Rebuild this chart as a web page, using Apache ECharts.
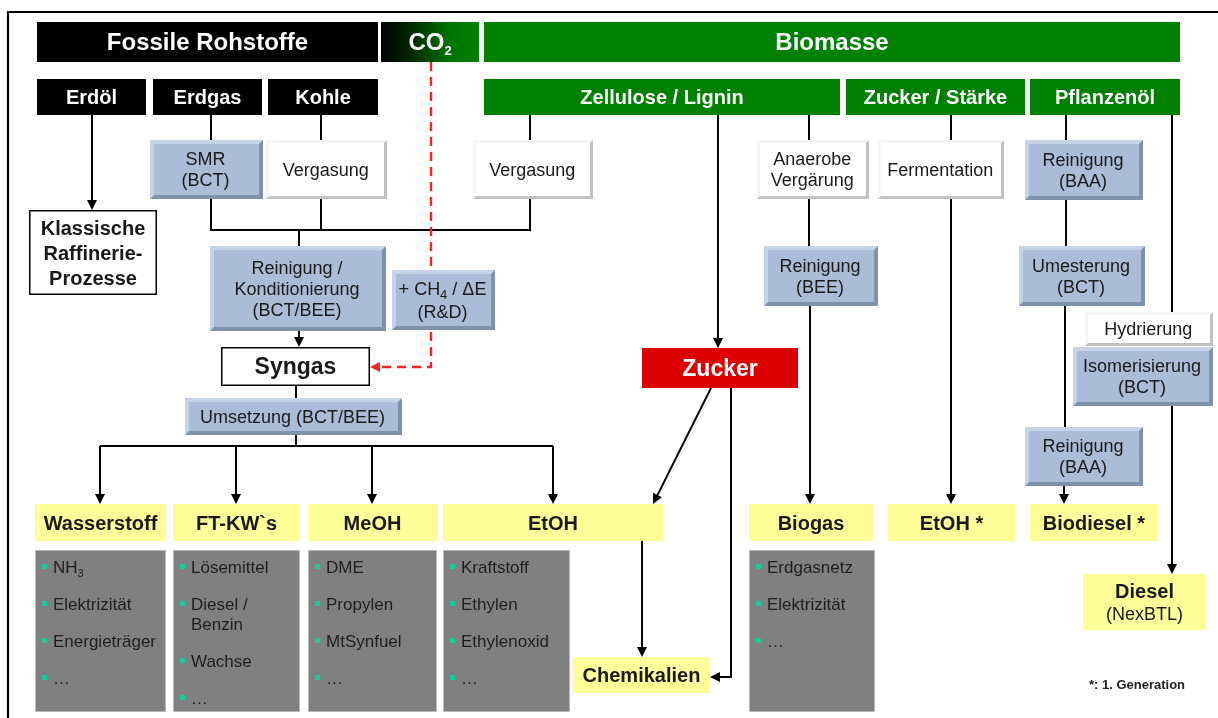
<!DOCTYPE html>
<html>
<head>
<meta charset="utf-8">
<title>Fossile Rohstoffe / Biomasse</title>
<script src="https://cdn.jsdelivr.net/npm/echarts@6/dist/echarts.min.js"></script>
<style>
  html, body { margin: 0; background: #fff; }
  #chart { width: 1218px; height: 718px; }
</style>
</head>
<body>
<div id="chart"></div>
<script>
// diagram units = page pixels (x right, y down)
const FONT = '"Liberation Sans", Arial, Helvetica, sans-serif'

// [text, x, y, w, h, kind]
const headerNodes = [
  ['Fossile Rohstoffe', 37, 22, 341, 40, 'black'],
  ['{m|CO}{s|2}', 381, 22, 98, 40, 'co2'],
  ['Biomasse', 484, 22, 696, 40, 'green'],
]

const sourceNodes = [
  ['Erdöl', 37, 79, 109, 36, 'black'],
  ['Erdgas', 153, 79, 109, 36, 'black'],
  ['Kohle', 268, 79, 110, 36, 'black'],
  ['Zellulose / Lignin', 484, 79, 356, 36, 'green'],
  ['Zucker / Stärke', 846, 79, 179, 36, 'green'],
  ['Pflanzenöl', 1030, 79, 150, 36, 'green'],
]

const processNodes = [
  ['SMR\n(BCT)', 150, 140, 113, 59, 'blue'],
  ['Vergasung', 266, 140, 121, 59, 'white'],
  ['Vergasung', 473, 140, 120, 59, 'white'],
  ['Anaerobe\nVergärung', 757, 140, 112, 59, 'white'],
  ['Fermentation', 878, 140, 126, 59, 'white'],
  ['Reinigung\n(BAA)', 1025, 140, 118, 60, 'blue'],
  ['Reinigung /\nKonditionierung\n(BCT/BEE)', 210, 246, 176, 85, 'blue'],
  ['{t|+ CH}{s|4}{t| / ΔE}\n{t|(R&D)}', 392, 270, 103, 60, 'blue'],
  ['Reinigung\n(BEE)', 764, 246, 114, 60, 'blue'],
  ['Umesterung\n(BCT)', 1019, 246, 126, 60, 'blue'],
  ['Hydrierung', 1085, 312, 128, 34, 'white'],
  ['Isomerisierung\n(BCT)', 1073, 347, 140, 59, 'blue'],
  ['Reinigung\n(BAA)', 1025, 427, 118, 59, 'blue'],
  ['Umsetzung (BCT/BEE)', 185, 398, 217, 37, 'blue'],
  ['Klassische\nRaffinerie-\nProzesse', 29, 210, 128, 85, 'outline'],
  ['Syngas', 221, 347, 149, 39, 'syngas'],
  ['Zucker', 642, 348, 156, 40, 'red'],
]

const productNodes = [
  ['Wasserstoff', 35, 504, 131, 37, 'yellow'],
  ['FT-KW`s', 173, 504, 127, 37, 'yellow'],
  ['MeOH', 308, 504, 129, 37, 'yellow'],
  ['EtOH', 443, 504, 220, 37, 'yellow'],
  ['Biogas', 749, 504, 124, 37, 'yellow'],
  ['EtOH *', 888, 504, 127, 37, 'yellow'],
  ['Biodiesel *', 1030, 504, 128, 37, 'yellow'],
  ['Chemikalien', 573, 657, 137, 36, 'yellow'],
  ['{b|Diesel}\n{n|(NexBTL)}', 1083, 574, 123, 56, 'yellow'],
]

// grey boxes with bullet lists: [x, y, w, h, items]
const useLists = [
  [35, 550, 131, 162, ['{n|NH}{s|3}', 'Elektrizität', 'Energieträger', '…']],
  [173, 550, 127, 162, ['Lösemittel', 'Diesel /\nBenzin', 'Wachse', '…']],
  [308, 550, 129, 162, ['DME', 'Propylen', 'MtSynfuel', '…']],
  [443, 550, 127, 162, ['Kraftstoff', 'Ethylen', 'Ethylenoxid', '…']],
  [749, 550, 126, 162, ['Erdgasnetz', 'Elektrizität', '…']],
]

// connectors: [points, arrow at end, kind]
const edges = [
  [[[8, 718], [8, 12], [1218, 12]], false, 'frame'],
  [[[92, 115], [92, 210]], true, 'solid'],
  [[[211, 115], [211, 140]], false, 'solid'],
  [[[321, 115], [321, 140]], false, 'solid'],
  [[[530, 115], [530, 140]], false, 'solid'],
  [[[211, 199], [211, 230], [530, 230], [530, 199]], false, 'solid'],
  [[[321, 199], [321, 230]], false, 'solid'],
  [[[299, 230], [299, 246]], false, 'solid'],
  [[[299, 331], [299, 347]], true, 'solid'],
  [[[431, 62], [431, 367], [370, 367]], true, 'co2'],
  [[[296, 386], [296, 398]], false, 'solid'],
  [[[296, 435], [296, 446]], false, 'solid'],
  [[[100, 446], [553, 446]], false, 'solid'],
  [[[100, 446], [100, 504]], true, 'solid'],
  [[[236, 446], [236, 504]], true, 'solid'],
  [[[372, 446], [372, 504]], true, 'solid'],
  [[[553, 446], [553, 504]], true, 'solid'],
  [[[718, 115], [718, 348]], true, 'solid'],
  [[[711, 388], [653, 504]], true, 'solid'],
  [[[731, 388], [731, 677], [710, 677]], true, 'solid'],
  [[[642, 541], [642, 657]], true, 'solid'],
  [[[809, 115], [809, 140]], false, 'solid'],
  [[[809, 199], [809, 246]], false, 'solid'],
  [[[810, 306], [810, 504]], true, 'solid'],
  [[[951, 115], [951, 140]], false, 'solid'],
  [[[951, 199], [951, 504]], true, 'solid'],
  [[[1066, 115], [1066, 140]], false, 'solid'],
  [[[1066, 200], [1066, 246]], false, 'solid'],
  [[[1065, 306], [1065, 427]], false, 'solid'],
  [[[1064, 486], [1064, 504]], true, 'solid'],
  [[[1172, 115], [1172, 312]], false, 'solid'],
  [[[1172, 406], [1172, 574]], true, 'solid'],
]

const footnote = ['*: 1. Generation', 1137, 685]

const allNodes = [...headerNodes, ...sourceNodes, ...processNodes, ...productNodes]

const INK = '#1a1a1a'
const fills = {
  black: '#000000',
  green: '#008000',
  red: '#dd0000',
  yellow: '#ffff99',
  outline: '#ffffff',
  syngas: '#ffffff',
  co2: {
    type: 'linear', x: 0, y: 0, x2: 1, y2: 0,
    colorStops: [
      { offset: 0, color: '#000000' },
      { offset: 0.3, color: '#002800' },
      { offset: 0.7, color: '#007400' },
      { offset: 1, color: '#008000' },
    ],
  },
}
const bevels = {
  blue: { light: '#c6d3e6', dark: '#7f92ad', face: '#aabcd6', b: 4 },
  white: { light: '#f6f6f6', dark: '#c2c2c2', face: '#ffffff', b: 3 },
}

function textStyle(node, cx, cy) {
  const [text, , , , , kind] = node
  const light = ['black', 'green', 'red', 'co2'].includes(kind)
  const base = {
    x: cx, y: cy, text, align: 'center', verticalAlign: 'middle',
    fontFamily: FONT, fill: light ? '#ffffff' : INK,
  }
  if (kind === 'black' || kind === 'green' || kind === 'co2') {
    const big = headerNodes.includes(node)
    Object.assign(base, { fontSize: big ? 24 : 20, fontWeight: 'bold' })
  } else if (kind === 'red' || kind === 'syngas') {
    Object.assign(base, { fontSize: 23, fontWeight: 'bold' })
  } else if (kind === 'outline') {
    Object.assign(base, { fontSize: 20, fontWeight: 'bold', lineHeight: 25 })
  } else if (kind === 'yellow') {
    Object.assign(base, { fontSize: 20, fontWeight: 'bold' })
  } else {
    Object.assign(base, { fontSize: 18, lineHeight: 21 })
  }
  base.rich = {
    m: { fontFamily: FONT, fontSize: 24, fontWeight: 'bold', fill: '#ffffff', lineHeight: 28 },
    s: { fontFamily: FONT, fontSize: 13, fontWeight: kind === 'co2' ? 'bold' : 'normal', fill: light ? '#ffffff' : INK, lineHeight: 13, verticalAlign: 'bottom' },
    t: { fontFamily: FONT, fontSize: 18, fill: INK, lineHeight: 23 },
    b: { fontFamily: FONT, fontSize: 20, fontWeight: 'bold', fill: INK, lineHeight: 24 },
    n: { fontFamily: FONT, fontSize: 18, fill: INK, lineHeight: 22 },
  }
  return base
}

function renderNode(params, api) {
  const node = allNodes[params.dataIndex]
  const [, x, y, w, h, kind] = node
  const p1 = api.coord([x, y])
  const p2 = api.coord([x + w, y + h])
  const X = p1[0], Y = p1[1], W = p2[0] - p1[0], H = p2[1] - p1[1]
  const children = []
  const bv = bevels[kind]
  if (bv) {
    const b = bv.b
    children.push({ type: 'rect', shape: { x: X, y: Y, width: W, height: H }, style: { fill: bv.light } })
    children.push({
      type: 'polygon',
      shape: { points: [[X + W, Y], [X + W, Y + H], [X, Y + H], [X + b, Y + H - b], [X + W - b, Y + H - b], [X + W - b, Y + b]] },
      style: { fill: bv.dark },
    })
    children.push({ type: 'rect', shape: { x: X + b, y: Y + b, width: W - 2 * b, height: H - 2 * b }, style: { fill: bv.face } })
  } else {
    const outlined = kind === 'outline' || kind === 'syngas'
    children.push({
      type: 'rect',
      shape: { x: X + (outlined ? 0.75 : 0), y: Y + (outlined ? 0.75 : 0), width: W - (outlined ? 1.5 : 0), height: H - (outlined ? 1.5 : 0) },
      style: { fill: fills[kind], stroke: outlined ? '#000' : null, lineWidth: outlined ? 1.5 : 0 },
    })
  }
  const dx = bv ? -bv.b / 4 : 0
  children.push({ type: 'text', style: textStyle(node, X + W / 2 + dx, Y + H / 2 + 1.5) })
  return { type: 'group', children }
}

function renderList(params, api) {
  const [x, y, w, h, items] = useLists[params.dataIndex]
  const p1 = api.coord([x, y])
  const p2 = api.coord([x + w, y + h])
  const children = [{
    type: 'rect',
    shape: { x: p1[0] + 0.5, y: p1[1] + 0.5, width: p2[0] - p1[0] - 1, height: p2[1] - p1[1] - 1 },
    style: { fill: '#808080', stroke: '#b8b8b8', lineWidth: 1 },
  }]
  let rowY = y + 17
  items.forEach((item) => {
    const c = api.coord([x + 7, rowY])
    children.push({ type: 'rect', shape: { x: c[0], y: c[1] - 3, width: 5, height: 5 }, style: { fill: '#19c99a' } })
    const lines = item.split('\n')
    lines.forEach((ln, k) => {
      const t = api.coord([x + 18, rowY + k * 20 + 1])
      children.push({
        type: 'text',
        style: {
          x: t[0], y: t[1], text: ln, align: 'left', verticalAlign: 'middle',
          fontFamily: FONT, fontSize: 17, fill: '#1e1e1e',
          rich: {
            n: { fontFamily: FONT, fontSize: 17, fill: '#1e1e1e', lineHeight: 22 },
            s: { fontFamily: FONT, fontSize: 11, fill: '#1e1e1e', lineHeight: 11, verticalAlign: 'bottom' },
          },
        },
      })
    })
    rowY += 37 + (lines.length - 1) * 20
  })
  return { type: 'group', children }
}

function renderEdge(params, api) {
  const [points, arrow, kind] = edges[params.dataIndex]
  const color = kind === 'co2' ? '#ff2020' : '#000000'
  const width = kind === 'frame' ? 2.2 : kind === 'co2' ? 2.4 : 2
  const pts = points.map((p) => api.coord(p))
  const children = []
  const line = pts.slice()
  if (arrow) {
    const a = pts[pts.length - 1]
    const b = pts[pts.length - 2]
    const dx = a[0] - b[0], dy = a[1] - b[1]
    const len = Math.hypot(dx, dy)
    const ux = dx / len, uy = dy / len
    const L = 10, Wd = 5
    const base = [a[0] - ux * L, a[1] - uy * L]
    children.push({
      type: 'polygon',
      shape: { points: [a, [base[0] - uy * Wd, base[1] + ux * Wd], [base[0] + uy * Wd, base[1] - ux * Wd]] },
      style: { fill: color },
      z2: 2,
    })
    line[line.length - 1] = [a[0] - ux * (L - 2), a[1] - uy * (L - 2)]
  }
  children.unshift({
    type: 'polyline',
    shape: { points: line },
    style: { stroke: color, lineWidth: width, fill: null, lineDash: kind === 'co2' ? [9, 6] : null },
  })
  return { type: 'group', children }
}

const chart = echarts.init(document.getElementById('chart'), null, { renderer: 'canvas' })
chart.setOption({
  animation: false,
  backgroundColor: '#ffffff',
  grid: { left: 0, right: 0, top: 0, bottom: 0 },
  xAxis: { type: 'value', min: 0, max: 1218, show: false },
  yAxis: { type: 'value', min: 0, max: 718, inverse: true, show: false },
  series: [
    {
      type: 'custom',
      name: 'edges',
      coordinateSystem: 'cartesian2d',
      renderItem: renderEdge,
      data: edges.map((e) => e[0][0]),
      z: 1,
    },
    {
      type: 'custom',
      name: 'nodes',
      coordinateSystem: 'cartesian2d',
      renderItem: renderNode,
      data: allNodes.map((n) => [n[1], n[2]]),
      z: 2,
    },
    {
      type: 'custom',
      name: 'lists',
      coordinateSystem: 'cartesian2d',
      renderItem: renderList,
      data: useLists.map((l) => [l[0], l[1]]),
      z: 2,
    },
    {
      type: 'custom',
      name: 'footnote',
      coordinateSystem: 'cartesian2d',
      renderItem: (params, api) => {
        const p = api.coord([footnote[1], footnote[2]])
        return {
          type: 'text',
          style: {
            x: p[0], y: p[1], text: footnote[0], align: 'center', verticalAlign: 'middle',
            fontFamily: FONT, fontSize: 13, fontWeight: 'bold', fill: '#222',
          },
        }
      },
      data: [[footnote[1], footnote[2]]],
      z: 2,
    },
  ],
})
</script>
</body>
</html>
